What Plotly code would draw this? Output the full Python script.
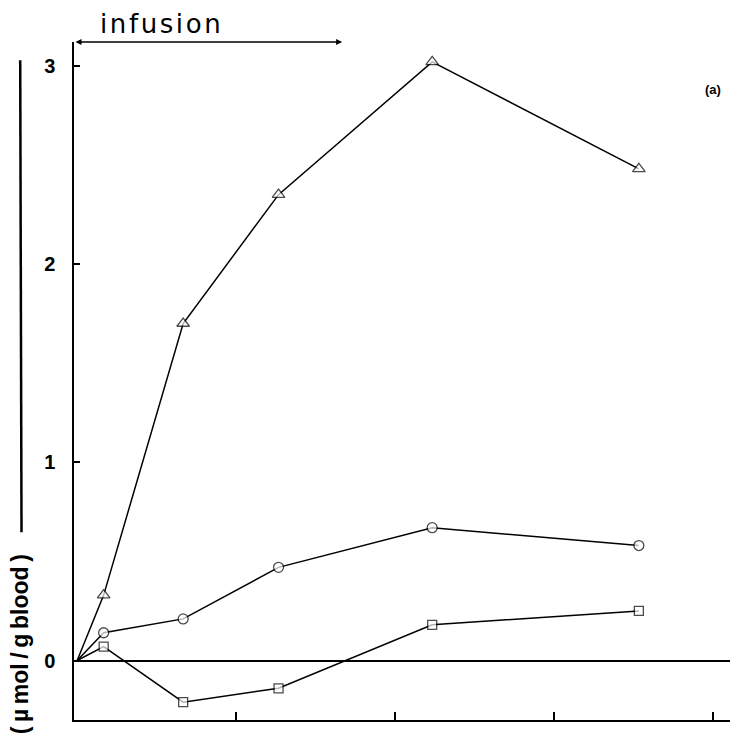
import plotly.graph_objects as go

# time (min) of samples
time_min = [0, 5, 20, 38, 67, 106]
triangle_vals = [0, 0.33, 1.70, 2.35, 3.02, 2.48]
circle_vals = [0, 0.14, 0.21, 0.47, 0.67, 0.58]
square_vals = [0, 0.07, -0.21, -0.14, 0.18, 0.25]
x_ticks = [30, 60, 90, 120]
y_ticks = [0, 1, 2, 3]
y_tick_labels = ["0", "1", "2", "3"]
infusion_start, infusion_end = 0, 50
y_top = 3.12

fig = go.Figure()
for vals, sym, sz in [(triangle_vals, "triangle-up", 11), (circle_vals, "circle", 10), (square_vals, "square", 9)]:
    fig.add_trace(go.Scatter(
        x=time_min, y=vals, mode="lines+markers",
        line=dict(color="black", width=1.5),
        marker=dict(symbol=sym, size=[0] + [sz] * (len(vals) - 1),
                    color="white", line=dict(color="black", width=1.3)),
        showlegend=False, cliponaxis=False,
    ))

fig.update_layout(
    width=736, height=746,
    margin=dict(l=74, r=6, t=42, b=26),
    plot_bgcolor="white", paper_bgcolor="white",
    xaxis=dict(range=[-0.6, 123.2], showline=True, linecolor="black", linewidth=1.5,
               ticks="inside", ticklen=8, tickwidth=1.5, tickcolor="black",
               tickvals=x_ticks, showticklabels=False, showgrid=False, zeroline=False, mirror=False),
    yaxis=dict(range=[-0.30, y_top], showline=True, linecolor="black", linewidth=1.5,
               ticks="inside", ticklen=6, tickwidth=1.5, tickcolor="black",
               tickvals=y_ticks, ticktext=["<b>%s</b>" % t for t in y_tick_labels], showgrid=False,
               zeroline=True, zerolinecolor="black", zerolinewidth=1.5,
               tickfont=dict(family="Liberation Sans", size=20, color="black"),
               ticklabelstandoff=13),
    font=dict(family="Liberation Sans", color="black"),
)

# infusion arrow
fig.add_annotation(x=infusion_end, y=y_top, xref="x", yref="y",
                   ax=infusion_start - 0.6, ay=y_top, axref="x", ayref="y",
                   showarrow=True, arrowside="end+start", arrowhead=2, arrowsize=0.8,
                   arrowwidth=1.5, arrowcolor="black", text="")
fig.add_annotation(x=0.036, y=1.0, xref="paper", yref="paper", yshift=1,
                   xanchor="left", yanchor="bottom", showarrow=False,
                   text="\u200a".join("infusion"),
                   font=dict(family="DejaVu Sans", size=26, color="black"))
fig.add_annotation(x=0.974, y=0.93, xref="paper", yref="paper", showarrow=False,
                   xanchor="center", yanchor="middle",
                   text="<b>(a)</b>", font=dict(family="Liberation Sans", size=13, color="black"))
# y-axis title
fig.add_annotation(x=-0.082, y=0.112, xref="paper", yref="paper", showarrow=False,
                   xanchor="center", yanchor="middle",
                   textangle=-90, text="<b>(\u2009µ\u2009mol\u2009/\u2009g\u2009blood\u2009)</b>",
                   font=dict(family="Liberation Sans", size=23, color="black"))
fig.add_shape(type="line", xref="paper", yref="paper", x0=-0.082, x1=-0.080,
              y0=0.973, y1=0.277, line=dict(color="black", width=2.5))

fig.write_html("out.html")
